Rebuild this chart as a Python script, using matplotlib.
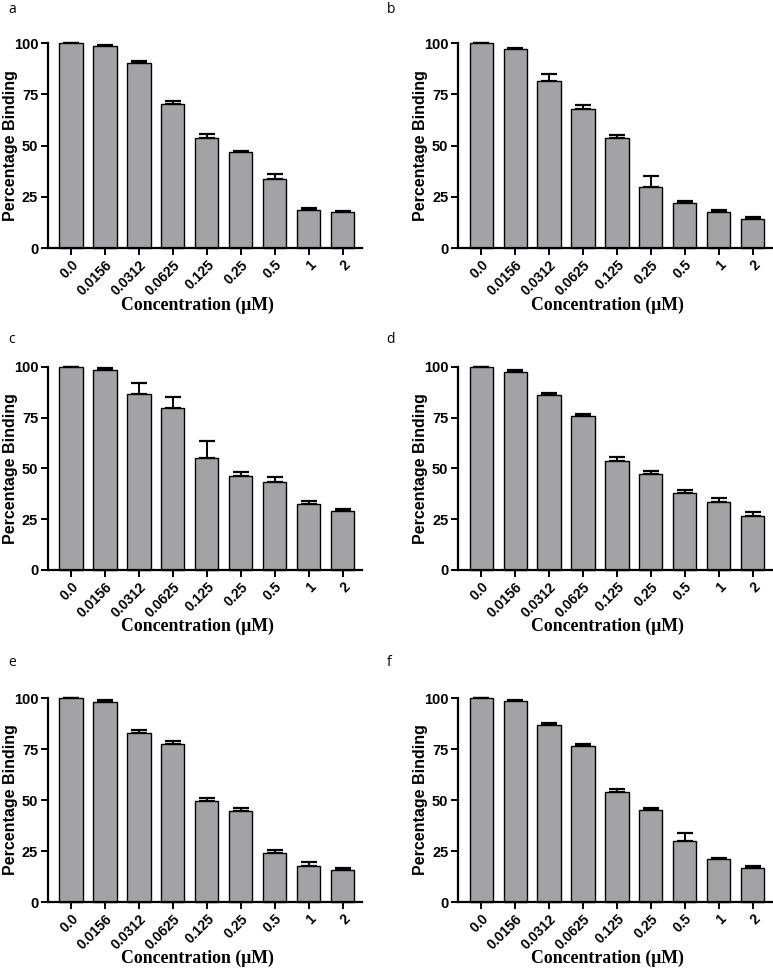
import numpy as np
import matplotlib
matplotlib.use("Agg")
import matplotlib.pyplot as plt

concentrations = ["0.0", "0.0156", "0.0312", "0.0625", "0.125", "0.25", "0.5", "1", "2"]
panel_letters = ["a", "b", "c", "d", "e", "f"]

# mean percentage binding and upper error (SEM) for each panel
binding_a = [100, 98.4, 90.2, 70.2, 53.7, 46.8, 33.7, 18.7, 17.6]
error_a = [0, 0.5, 1.2, 1.7, 2.2, 0.4, 2.6, 1.0, 0.6]
binding_b = [100, 96.9, 81.7, 67.8, 53.6, 29.9, 22.2, 17.8, 14.2]
error_b = [0, 0.8, 3.3, 2.1, 1.5, 5.2, 0.7, 0.7, 1.2]
binding_c = [100, 98.7, 86.9, 80.0, 55.4, 46.1, 43.4, 32.6, 29.0]
error_c = [0, 0.6, 5.4, 5.4, 7.9, 2.1, 2.2, 1.3, 1.0]
binding_d = [100, 97.7, 86.4, 75.8, 53.8, 47.5, 37.9, 33.7, 26.5]
error_d = [0, 0.8, 0.9, 1.0, 1.9, 1.2, 1.6, 1.8, 1.9]
binding_e = [100, 98.2, 82.7, 77.7, 49.6, 44.5, 23.8, 17.8, 15.7]
error_e = [0, 0.7, 1.5, 1.4, 1.3, 1.8, 1.5, 1.9, 1.1]
binding_f = [100, 98.4, 86.6, 76.5, 54.1, 45.1, 29.7, 20.9, 16.7]
error_f = [0, 0.5, 1.1, 1.1, 1.3, 1.0, 4.0, 0.7, 0.8]

all_binding = [binding_a, binding_b, binding_c, binding_d, binding_e, binding_f]
all_error = [error_a, error_b, error_c, error_d, error_e, error_f]

fig = plt.figure(figsize=(7.73, 9.69), dpi=100)

# axes boxes (left, bottom, width, height) in figure fraction
lefts = [0.062, 0.5925]
rows = [(0.744, 0.2115), (0.4118, 0.2095), (0.0691, 0.2105)]
letter_x = [0.011, 0.5]
letter_y = [0.998, 0.657, 0.324]

x = np.arange(len(concentrations))
for i in range(6):
    row, col = divmod(i, 2)
    bottom, height = rows[row]
    ax = fig.add_axes([lefts[col], bottom, 0.406, height])

    ax.bar(x, all_binding[i], width=0.68, color="#a3a3a6", edgecolor="black",
           linewidth=1.0, zorder=2, clip_on=False)
    ax.errorbar(x, all_binding[i], yerr=[np.zeros(len(x)), all_error[i]],
                fmt="none", ecolor="black", elinewidth=1.4, capsize=6,
                capthick=1.6, zorder=1, clip_on=False)

    ax.set_xlim(-0.68, 8.56)
    ax.set_ylim(0, 100)
    ax.set_yticks([0, 25, 50, 75, 100])
    ax.set_xticks(x)
    ax.set_xticklabels(concentrations, rotation=45, ha="right", rotation_mode="anchor",
                       fontsize=10, fontweight="bold", family="Liberation Sans")
    for lab in ax.get_yticklabels():
        lab.set_fontsize(10.5)
        lab.set_fontweight("bold")
        lab.set_family("Liberation Sans")

    for side in ["top", "right"]:
        ax.spines[side].set_visible(False)
    for side in ["left", "bottom"]:
        ax.spines[side].set_linewidth(1.6)
    ax.tick_params(axis="both", direction="out", length=5, width=1.4, pad=2)

    ax.set_ylabel("Percentage Binding", fontsize=11.5, fontweight="bold",
                  family="Liberation Sans")
    ax.yaxis.set_label_coords(-0.096, 0.5)
    ax.set_xlabel("Concentration (\u03bcM)", fontsize=12.8, fontweight="bold",
                  family="Liberation Serif")
    ax.xaxis.set_label_coords(0.475, -0.235)

    fig.text(letter_x[col], letter_y[row], panel_letters[i], fontsize=10,
             family="Open Sans", va="top")

fig.savefig("out.png", dpi=100)
